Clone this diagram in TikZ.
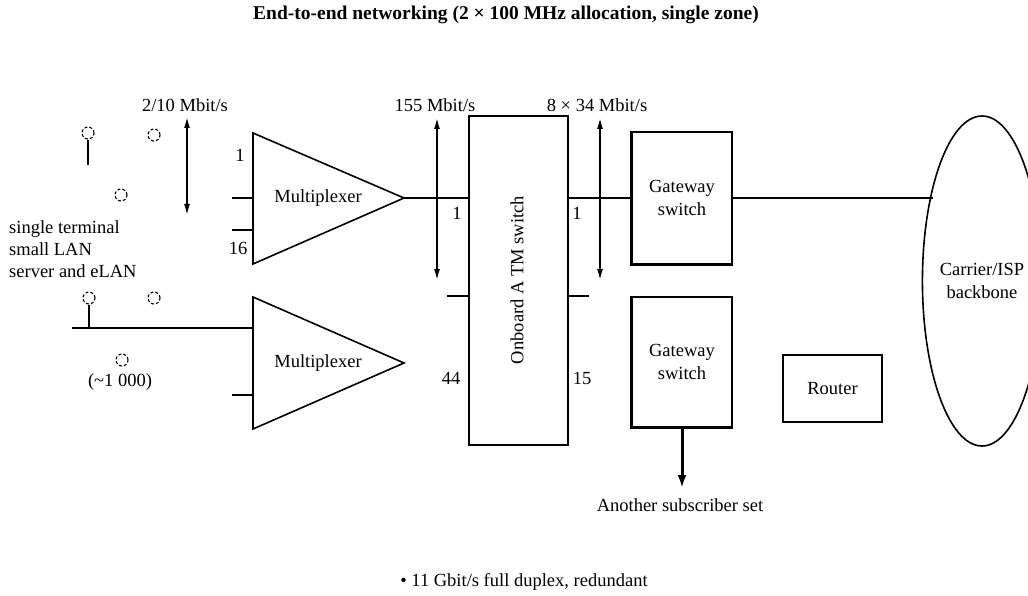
\documentclass[tikz,border=0pt]{standalone}
\usepackage{fontspec}
\setmainfont{Liberation Serif}
\usetikzlibrary{shapes.geometric,arrows.meta}
\begin{document}
\begin{tikzpicture}[x=1pt,y=-1pt,
  lw/.style={line width=1.6pt},
  txt/.style={font=\fontsize{18.5}{22}\selectfont, inner sep=0pt},
  boxn/.style={draw, lw, inner sep=0pt, font=\fontsize{18.5}{23}\selectfont, align=center},
  term/.style={draw, densely dashed, line width=1.1pt, circle, minimum size=12pt, inner sep=0pt},
  darr/.style={lw, {Latex[length=11pt,width=6pt]}-{Latex[length=11pt,width=6pt]}},
]
\clip (0,0) rectangle (1028,596);
\fill[white] (0,0) rectangle (1028,596);

% title
\node[txt, font=\fontsize{19.5}{22}\selectfont\bfseries] (title) at (506,15) {End-to-end networking (2 × 100 MHz allocation, single zone)};

% multiplexers
\coordinate (A1) at (253,133); \coordinate (B1) at (253,264); \coordinate (P1) at (404,198);
\coordinate (A2) at (253,297); \coordinate (B2) at (253,429); \coordinate (P2) at (404,363);
\draw[lw] (A1) -- (P1) -- (B1) -- cycle;
\draw[lw] (A2) -- (P2) -- (B2) -- cycle;
\node[txt] (mux1) at (318,198) {Multiplexer};
\node[txt] (mux2) at (318,363) {Multiplexer};

% ATM switch
\node[boxn, minimum width=99pt, minimum height=329pt] (atm) at (518.5,280.5) {};
\node[txt, rotate=90] (atmt) at (517,280) {Onboard A TM switch};

% gateways
\node[boxn, minimum width=100pt, minimum height=132pt] (gw1) at (682,198) {Gateway\\switch};
\node[boxn, minimum width=100pt, minimum height=130pt] (gw2) at (682,362) {Gateway\\switch};
\draw[line width=3pt] (gw1.north west) -- (gw1.south west) -- (gw1.south east);
\draw[line width=3pt] (gw2.north west) -- (gw2.south west) -- (gw2.south east);

% router
\node[boxn, minimum width=99pt, minimum height=67pt] (router) at (832.5,388.5) {Router};

% backbone
\node[draw, lw, ellipse, minimum width=114pt, minimum height=330pt, inner sep=0pt,
      font=\fontsize{18.5}{23}\selectfont, align=center] (bb) at (982,281) {Carrier/ISP\\backbone};
\coordinate (bbin) at (932.5,198);

% connections
\draw[lw] (P1) -- (atm.west |- P1);
\draw[lw] (atm.east |- P1) -- (gw1.west);
\draw[lw] (gw1.east) -- (bbin);
\coordinate (atmL) at (atm.west |- 0,296);
\coordinate (atmR) at (atm.east |- 0,296);
\draw[lw] (atmL) -- ++(-21,0);
\draw[lw] (atmR) -- ++(20,0);

% mux inputs
\coordinate (i11) at (232,198); \coordinate (i12) at (232,230);
\coordinate (i21) at (72,328);  \coordinate (i22) at (232,395);
\draw[lw] (i11) -- (i11 -| A1);
\draw[lw] (i12) -- (i12 -| A1);
\draw[lw] (i21) -- (i21 -| A2);
\draw[lw] (i22) -- (i22 -| A2);

% terminals
\node[term] (t1) at (88,133) {};
\node[term] (t2) at (154,135) {};
\node[term] (t3) at (121,195) {};
\node[term] (t4) at (89,298) {};
\node[term] (t5) at (154,298) {};
\node[term] (t6) at (122,360) {};
\draw[lw] (t1.south) -- (88,165);
\draw[lw] (t4.south) -- (t4.south |- i21);

% rate arrows
\coordinate (ra1) at (187,117); \coordinate (rb1) at (187,215);
\coordinate (ra2) at (437,118); \coordinate (rb2) at (437,280);
\coordinate (ra3) at (600,118); \coordinate (rb3) at (600,280);
\draw[darr] (ra1) -- (rb1);
\draw[darr] (ra2) -- (rb2);
\draw[darr] (ra3) -- (rb3);

% another subscriber
\node[txt] (another) at (680,505) {Another subscriber set};
\coordinate (anend) at (682,488);
\draw[line width=3pt, -{Latex[length=13pt,width=9pt]}] (gw2.south) -- (anend);

% labels
\node[txt] (l210) at (185,105) {2/10 Mbit/s};
\node[txt] (l155) at (435,105) {155 Mbit/s};
\node[txt] (l834) at (597,105) {8 × 34 Mbit/s};
\node[txt] (n1a) at (240,155) {1};
\node[txt] (n16) at (238,248) {16};
\node[txt] (n1b) at (457,213) {1};
\node[txt] (n1c) at (577,213) {1};
\node[txt] (n44) at (451,378) {44};
\node[txt] (n15) at (582,378) {15};
\node[txt, anchor=north west, align=left] (lan) at (9,220) {single terminal\\small LAN\\server and eLAN};
\node[txt] (k1000) at (120,382) {(\textasciitilde1 000)};
\node[txt] (foot) at (524,582) {• 11 Gbit/s full duplex, redundant};
\end{tikzpicture}
\end{document}
